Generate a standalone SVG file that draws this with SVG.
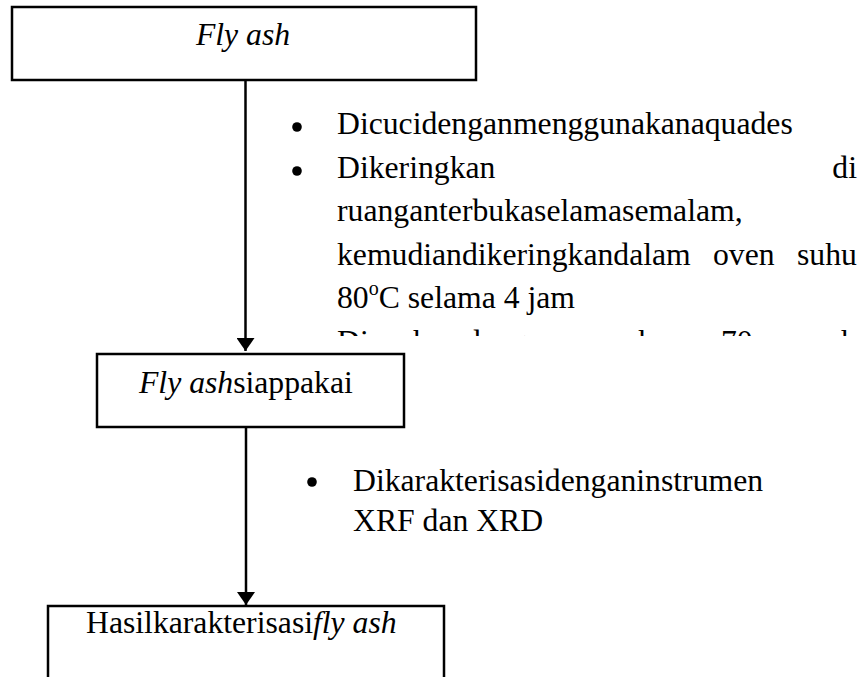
<svg xmlns="http://www.w3.org/2000/svg" width="860" height="677" viewBox="0 0 860 677">
<style>
  .box { fill: #ffffff; stroke: #000000; stroke-width: 2.5; }
  text { font-family: "Times New Roman", Times, "Liberation Serif", "DejaVu Serif", serif; font-size: 31.7px; fill: #000000; }
  .it { font-style: italic; }
  .conn { stroke: #000000; stroke-width: 2.5; fill: none; marker-end: url(#arrow); }
  .dot { fill: #000000; }
</style>
<defs>
  <marker id="arrow" markerUnits="userSpaceOnUse" markerWidth="14" markerHeight="18" refX="13" refY="9" orient="auto">
    <path d="M0,0 L13,9 L0,18 Z" fill="#000000"/>
  </marker>
  <clipPath id="clipText">
    <rect x="0" y="0" width="860" height="336"/>
  </clipPath>
</defs>
<rect x="0" y="0" width="860" height="677" fill="#ffffff"/>

<g id="connectors">
  <line class="conn" x1="245.5" y1="80" x2="245.5" y2="351"/>
  <line class="conn" x1="246" y1="427" x2="246" y2="605"/>
</g>

<g id="node-flyash">
  <rect class="box" x="12" y="7" width="464" height="73"/>
  <text class="it" x="243" y="45" text-anchor="middle">Fly ash</text>
</g>

<g id="node-flyash-siap">
  <rect class="box" x="97" y="354" width="307" height="73"/>
  <text x="139" y="393"><tspan class="it">Fly ash</tspan>siappakai</text>
</g>

<g id="node-hasil">
  <rect class="box" x="48" y="606" width="396" height="110"/>
  <text x="86" y="633">Hasilkarakterisasi<tspan class="it">fly ash</tspan></text>
</g>

<g id="label-step1" clip-path="url(#clipText)">
  <circle class="dot" cx="297" cy="127" r="4.8"/>
  <text x="337" y="134">Dicucidenganmenggunakanaquades</text>
  <circle class="dot" cx="297" cy="171" r="4.8"/>
  <text x="337" y="177.5">Dikeringkan</text>
  <text x="857" y="177.5" text-anchor="end">di</text>
  <text x="337" y="221">ruanganterbukaselamasemalam,</text>
  <text y="264.5"><tspan x="337">kemudiandikeringkandalam</tspan><tspan x="713">oven</tspan><tspan x="797">suhu</tspan></text>
  <text x="337" y="308">80<tspan font-size="20" dy="-13">o</tspan><tspan dy="13">C selama 4 jam</tspan></text>
  <text y="351.5"><tspan x="337">Diayak</tspan><tspan x="465">dengan</tspan><tspan x="594">ayakan</tspan><tspan x="721">70</tspan><tspan x="790">mesh</tspan></text>
</g>

<g id="label-step2">
  <circle class="dot" cx="312" cy="482" r="4.8"/>
  <text x="353" y="491">Dikarakterisasidenganinstrumen</text>
  <text x="353" y="531">XRF dan XRD</text>
</g>
</svg>
